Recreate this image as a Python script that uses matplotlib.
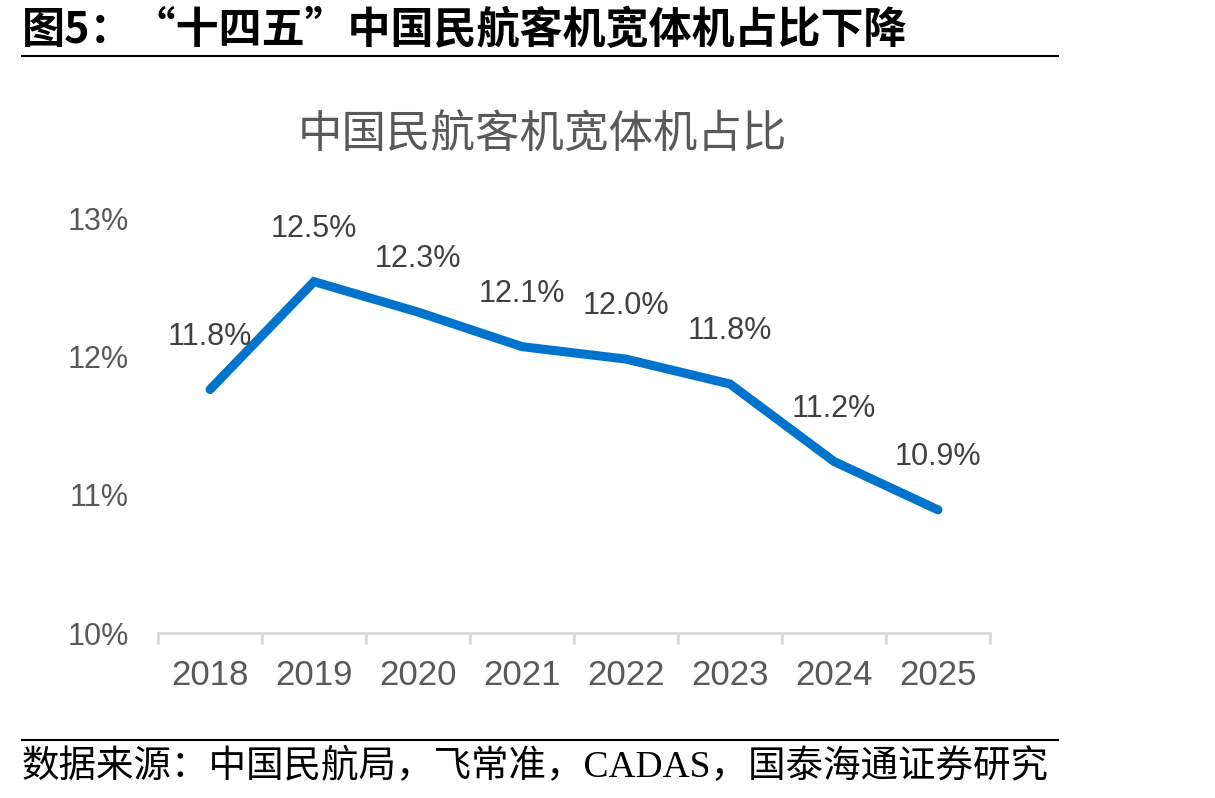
import matplotlib
matplotlib.use('Agg')
import matplotlib.pyplot as plt
from matplotlib.lines import Line2D

# Data
years = ['2018', '2019', '2020', '2021', '2022', '2023', '2024', '2025']
share = [11.76, 12.54, 12.32, 12.07, 11.98, 11.80, 11.24, 10.89]
labels = ['11.8%', '12.5%', '12.3%', '12.1%', '12.0%', '11.8%', '11.2%', '10.9%']
yticks = [10, 11, 12, 13]

cjk = ['Noto Sans CJK SC', 'DejaVu Sans']
num = ['Liberation Sans', 'DejaVu Sans']

fig = plt.figure(figsize=(12.15, 7.98), dpi=100)
ax = fig.add_axes([158 / 1215, 1 - 633 / 798, (990 - 158) / 1215, (633 - 218) / 798])

x = list(range(len(years)))
ax.plot(x, share, color='#0074CC', linewidth=6.5, solid_capstyle='round',
        solid_joinstyle='miter', clip_on=False)

for xi, yi, lab in zip(x, share, labels):
    ax.annotate(lab, (xi, yi), xytext=(0, 38), textcoords='offset points',
                ha='center', va='center', fontsize=22, color='#404040', family=num)

ax.set_xlim(-0.5, len(years) - 0.5)
ax.set_ylim(10, 13)
ax.set_yticks(yticks)
ax.set_yticklabels([f'{v}%' for v in yticks], family=num, fontsize=22, color='#595959')
ax.tick_params(axis='y', length=0, pad=21)
ax.set_xticks(x)
ax.set_xticklabels(years, family=num, fontsize=25, color='#595959')
ax.tick_params(axis='x', length=0, pad=19)
# category boundary ticks
ax.set_xticks([i - 0.5 for i in range(len(years) + 1)], minor=True)
ax.tick_params(axis='x', which='minor', length=8, width=2, color='#D9D9D9', direction='out')

for s in ['top', 'right', 'left']:
    ax.spines[s].set_visible(False)
ax.spines['bottom'].set_color('#D9D9D9')
ax.spines['bottom'].set_linewidth(2)

# chart title
fig.text(543 / 1215, 1 - 135 / 798, '中国民航客机宽体机占比', ha='center', va='center',
         fontsize=32, color='#595959', family=cjk)

# report header and footer
fig.text(22 / 1215, 1 - 30 / 798, '图5：“十四五”中国民航客机宽体机占比下降', ha='left', va='center',
         fontsize=31, fontweight='bold', color='black', family=cjk)
fig.add_artist(Line2D([22 / 1215, 1058 / 1215], [1 - 56 / 798, 1 - 56 / 798], color='black', linewidth=1.5))
fig.add_artist(Line2D([22 / 1215, 1058 / 1215], [1 - 740 / 798, 1 - 740 / 798], color='black', linewidth=1.5))
fig.text(22 / 1215, 1 - 767 / 798, '数据来源：中国民航局，飞常准，CADAS，国泰海通证券研究', ha='left', va='center',
         fontsize=27, color='black', family=['Liberation Serif', 'Noto Sans CJK SC'])

fig.savefig('out.png', dpi=100)
